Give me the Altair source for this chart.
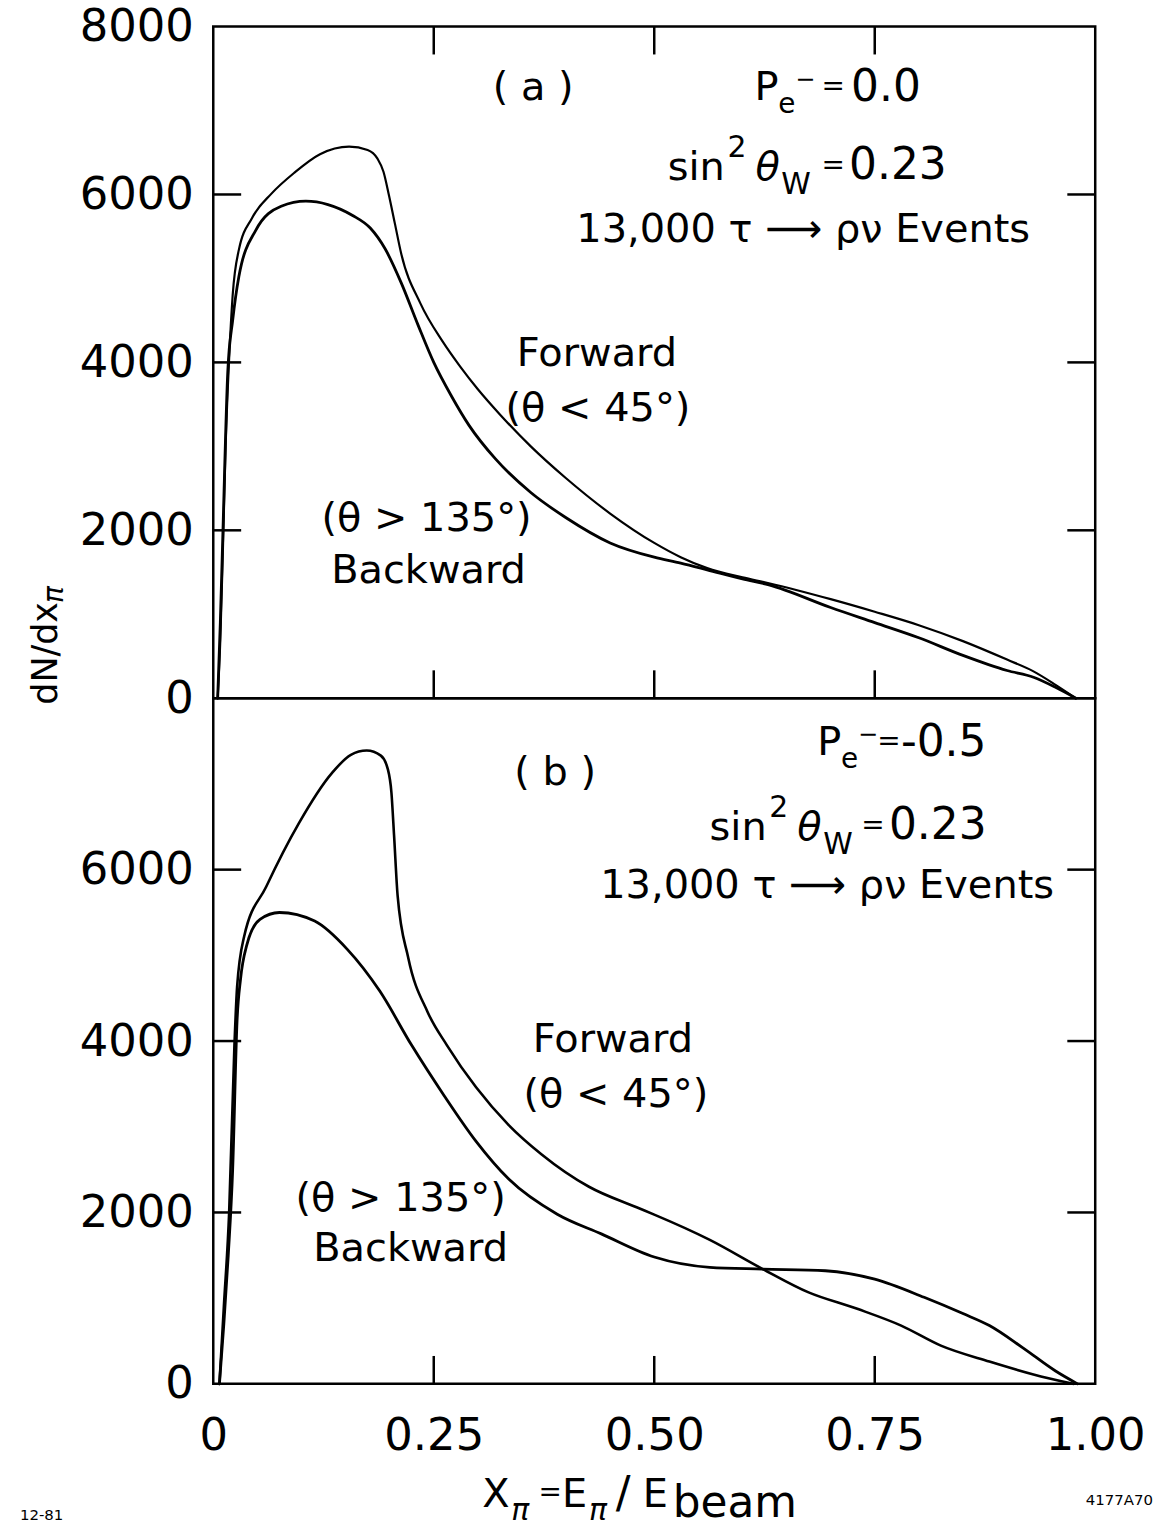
import altair as alt
import pandas as pd

# ---------------- data ----------------
# panel (a): P_e- = 0.0
a_fwd_x = [0.005, 0.008, 0.011, 0.014, 0.018, 0.022, 0.029, 0.044, 0.066, 0.092, 0.121,
           0.154, 0.175, 0.186, 0.193, 0.199, 0.206, 0.213, 0.235, 0.26, 0.28, 0.30,
           0.325, 0.36, 0.40, 0.45, 0.50, 0.53, 0.56, 0.60, 0.63, 0.70, 0.75, 0.80,
           0.85, 0.90, 0.93, 0.955, 0.978]
a_fwd_y = [0, 700, 1800, 3000, 4050, 4800, 5340, 5720, 6010, 6260, 6480,
           6570, 6530, 6430, 6270, 6000, 5650, 5300, 4700, 4250, 3950, 3680,
           3380, 3000, 2620, 2200, 1850, 1680, 1550, 1440, 1370, 1180, 1030, 870,
           680, 460, 320, 160, 0]
a_bwd_x = [0.005, 0.008, 0.011, 0.0165, 0.022, 0.029, 0.048, 0.077, 0.105, 0.13, 0.158,
           0.178, 0.195, 0.213, 0.232, 0.25, 0.27, 0.29, 0.32, 0.36, 0.40, 0.45,
           0.50, 0.53, 0.56, 0.60, 0.63, 0.70, 0.75, 0.80, 0.85, 0.90, 0.93, 0.955, 0.978]
a_bwd_y = [0, 900, 2000, 3900, 4500, 5020, 5570, 5860, 5920, 5880, 5750,
           5600, 5350, 4950, 4450, 4000, 3600, 3250, 2850, 2450, 2150, 1850,
           1680, 1610, 1530, 1420, 1350, 1080, 900, 720, 510, 330, 250, 130, 0]

# panel (b): P_e- = -0.5
b_fwd_x = [0.007, 0.012, 0.018, 0.024, 0.027, 0.035, 0.06, 0.097, 0.134, 0.156, 0.174,
           0.19, 0.198, 0.202, 0.205, 0.209, 0.221, 0.243, 0.265, 0.298, 0.335, 0.372,
           0.426, 0.48, 0.50, 0.563, 0.623, 0.675, 0.731, 0.78, 0.825, 0.88, 0.93, 0.975]
b_fwd_y = [0, 900, 2000, 3950, 4630, 5220, 5800, 6540, 7120, 7340, 7390,
           7330, 7170, 6900, 6400, 5700, 4975, 4340, 3950, 3460, 3020, 2680,
           2300, 2060, 1975, 1680, 1340, 1067, 873, 680, 446, 260, 110, 0]
b_bwd_x = [0.007, 0.012, 0.017, 0.022, 0.027, 0.031, 0.038, 0.053, 0.075, 0.115, 0.152,
           0.189, 0.225, 0.262, 0.298, 0.335, 0.39, 0.44, 0.50, 0.563, 0.623, 0.694,
           0.75, 0.806, 0.85, 0.88, 0.918, 0.955, 0.98]
b_bwd_y = [0, 700, 1500, 2500, 4240, 4730, 5120, 5420, 5500, 5400, 5070,
           4580, 3950, 3360, 2830, 2390, 1980, 1750, 1480, 1360, 1340, 1320,
           1222, 1010, 820, 680, 420, 150, 0]

x_tick_values = [0.25, 0.5, 0.75]
x_label_values = [0, 0.25, 0.5, 0.75, 1.0]
y_tick_values = [2000, 4000, 6000]
y_labels_a = [0, 2000, 4000, 6000, 8000]
y_labels_b = [0, 2000, 4000, 6000]

# ---------------- layout / style ----------------
FONT = "DejaVu Sans"
W = 885
H_A = 674
H_B = 688
X0 = 212
Y0_A = 26
Y0_B = Y0_A + H_A
TICK = 28
LW = 2.5
ANN = 40

xscale = alt.Scale(domain=[0, 1], nice=False, zero=False)
yscale = alt.Scale(domain=[0, 8000], nice=False)
dummy = pd.DataFrame({"k": [0]})


def y_axis(values):
    return alt.Axis(values=values, format="d", labelFont=FONT, labelFontSize=45,
                    labelPadding=20, ticks=False, tickSize=0, domain=False,
                    grid=False, title=None, labelColor="black")


x_axis_b = alt.Axis(values=x_label_values, labelFont=FONT, labelFontSize=45,
                    labelPadding=30, labelFlush=False, ticks=False, tickSize=0,
                    domain=False, grid=False, title=None, labelColor="black",
                    labelExpr="datum.value == 0 ? '0' : format(datum.value, '.2f')")


def curve(xs, ys, sw, xax, yax):
    df = pd.DataFrame({"x": xs, "y": ys})
    return alt.Chart(df).mark_line(
        color="black", strokeWidth=sw, interpolate="monotone",
        strokeCap="round", strokeJoin="round"
    ).encode(
        x=alt.X("x:Q", scale=xscale, axis=xax),
        y=alt.Y("y:Q", scale=yscale, axis=yax),
    )


def y_ticks(side, yax):
    df = pd.DataFrame({"v": y_tick_values})
    if side == "left":
        xx, xx2 = alt.value(0), alt.value(TICK)
    else:
        xx, xx2 = alt.value(W - TICK), alt.value(W)
    return alt.Chart(df).mark_rule(color="black", strokeWidth=LW).encode(
        y=alt.Y("v:Q", scale=yscale, axis=yax), x=xx, x2=xx2,
    )


def x_ticks(h, side, xax):
    df = pd.DataFrame({"v": x_tick_values})
    if side == "top":
        yy, yy2 = alt.value(0), alt.value(TICK)
    else:
        yy, yy2 = alt.value(h - TICK), alt.value(h)
    return alt.Chart(df).mark_rule(color="black", strokeWidth=LW).encode(
        x=alt.X("v:Q", scale=xscale, axis=xax), y=yy, y2=yy2,
    )


def label(text, px, py, y0, size=ANN, align="center", style="normal", angle=None):
    kw = dict(text=text, font=FONT, fontSize=size, align=align, baseline="middle",
              fontStyle=style, color="black")
    if angle is not None:
        kw["angle"] = angle
    return alt.Chart(dummy).mark_text(**kw).encode(
        x=alt.value(px - X0), y=alt.value(py - y0))


# ---------------- panel (a) ----------------
ya = y_axis(y_labels_a)
texts_a = [
    label("( a )", 533, 88, Y0_A),
    label("P", 755, 88, Y0_A, align="left"),
    label("e", 779, 105, Y0_A, size=28, align="left"),
    label("\u2212", 796, 80, Y0_A, size=24, align="left"),
    label("=", 834, 87, Y0_A, size=28, align="center"),
    label("0.0", 852, 88, Y0_A, size=44, align="left"),
    label("sin", 668, 168, Y0_A, align="left"),
    label("2", 728, 148, Y0_A, size=30, align="left"),
    label("\u03b8", 756, 168, Y0_A, align="left", style="italic"),
    label("W", 782, 185, Y0_A, size=30, align="left"),
    label("=", 834, 166, Y0_A, size=28, align="center"),
    label("0.23", 850, 166, Y0_A, size=44, align="left"),
    label("13,000  \u03c4 \u27f6 \u03c1\u03bd  Events", 804, 230, Y0_A),
    label("Forward", 597, 355, Y0_A),
    label("(\u03b8 < 45\u00b0)", 598, 410, Y0_A),
    label("(\u03b8 > 135\u00b0)", 426, 520, Y0_A),
    label("Backward", 428, 572, Y0_A),
    # y-axis title (spans both panels)
    label("dN/dx", 44, 655, Y0_A, size=35, angle=270),
    label("\u03c0", 53, 596, Y0_A, size=28, angle=270, style="italic"),
]

panel_a = alt.layer(
    y_ticks("left", ya),
    y_ticks("right", ya),
    x_ticks(H_A, "top", None),
    x_ticks(H_A, "bottom", None),
    curve(a_fwd_x, a_fwd_y, 2.2, None, ya),
    curve(a_bwd_x, a_bwd_y, 2.8, None, ya),
    *texts_a,
).properties(width=W, height=H_A)

# ---------------- panel (b) ----------------
yb = y_axis(y_labels_b)
texts_b = [
    label("( b )", 555, 775, Y0_B),
    label("P", 818, 745, Y0_B, align="left"),
    label("e", 842, 762, Y0_B, size=28, align="left"),
    label("\u2212", 859, 737, Y0_B, size=24, align="left"),
    label("=", 890, 744, Y0_B, size=28, align="center"),
    label("-0.5", 902, 745, Y0_B, size=44, align="left"),
    label("sin", 710, 830, Y0_B, align="left"),
    label("2", 770, 810, Y0_B, size=30, align="left"),
    label("\u03b8", 798, 830, Y0_B, align="left", style="italic"),
    label("W", 824, 847, Y0_B, size=30, align="left"),
    label("=", 874, 828, Y0_B, size=28, align="center"),
    label("0.23", 890, 828, Y0_B, size=44, align="left"),
    label("13,000  \u03c4 \u27f6 \u03c1\u03bd  Events", 828, 888, Y0_B),
    label("Forward", 613, 1043, Y0_B),
    label("(\u03b8 < 45\u00b0)", 616, 1098, Y0_B),
    label("(\u03b8 > 135\u00b0)", 400, 1203, Y0_B),
    label("Backward", 410, 1253, Y0_B),
    # x-axis title
    label("X", 482, 1500, Y0_B, align="left"),
    label("\u03c0", 511, 1516, Y0_B, size=30, align="left", style="italic"),
    label("=", 550, 1498, Y0_B, size=28, align="center"),
    label("E", 562, 1500, Y0_B, align="left"),
    label("\u03c0", 589, 1516, Y0_B, size=30, align="left", style="italic"),
    label("/", 616, 1500, Y0_B, size=44, align="left"),
    label("E", 643, 1500, Y0_B, align="left"),
    label("beam", 673, 1509, Y0_B, size=44, align="left"),
    # footers
    label("12-81", 18, 1520, Y0_B, size=15, align="left"),
    label("4177A70", 1155, 1505, Y0_B, size=15, align="right"),
]

panel_b = alt.layer(
    y_ticks("left", yb),
    y_ticks("right", yb),
    x_ticks(H_B, "bottom", x_axis_b),
    curve(b_fwd_x, b_fwd_y, 2.6, x_axis_b, yb),
    curve(b_bwd_x, b_bwd_y, 2.8, x_axis_b, yb),
    *texts_b,
).properties(width=W, height=H_B)

chart = alt.vconcat(panel_a, panel_b, spacing=0, bounds="flush").configure_view(
    stroke="black", strokeWidth=LW
).properties(
    padding={"left": 18, "top": 0, "right": 4, "bottom": 2},
    background="white",
)

chart.save("out.html", embed_options={"renderer": "svg", "actions": False})
